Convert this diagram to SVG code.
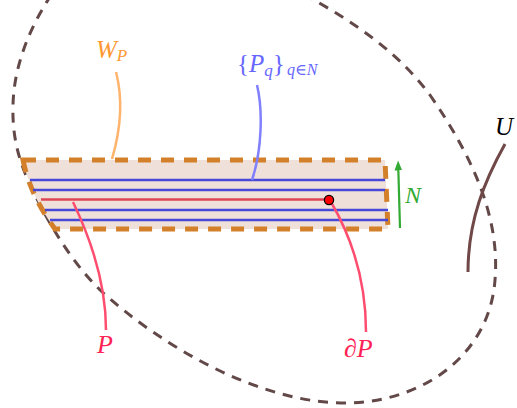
<svg xmlns="http://www.w3.org/2000/svg" width="517" height="408" viewBox="0 0 517 408">
<style>
.lbl{font-family:"Liberation Serif","DejaVu Serif",serif;font-style:italic}
.blue{stroke:#4848d8;stroke-width:2.5;fill:none}
.lead{fill:none;stroke-width:2.5}
</style>
<defs>
<marker id="ga" viewBox="0 0 10 10" refX="5" refY="5" markerWidth="5" markerHeight="5" orient="auto">
<path d="M0,1.5 L9,5 L0,8.5 Z" fill="#33aa33"/>
</marker>
</defs>
<rect width="517" height="408" fill="#fff"/>
<g id="U-region">
<path d="M62,-20 C35,15 14,60 13,105 C12,140 20,165 35,195 C50,225 70,260 100,290 C160,345 260,405 350,403 C430,400 490,350 495,280 C500,220 475,160 430,95 C400,55 360,25 300,-8" fill="none" stroke="#634848" stroke-width="3" stroke-dasharray="10 8"/>
</g>
<g id="tube">
<path d="M23,160 L385,160 L388,229 L55,229 Q30,195 23,160 Z" fill="#efe1d9" stroke="#d4802b" stroke-width="5" stroke-dasharray="13 10"/>
<line class="blue" x1="30" y1="180" x2="385" y2="180"/>
<line class="blue" x1="33" y1="190" x2="385" y2="190"/>
<line x1="41" y1="199.5" x2="329" y2="199.5" stroke="#dd4455" stroke-width="2.5"/>
<line class="blue" x1="45" y1="210" x2="388" y2="210"/>
<line class="blue" x1="50" y1="220" x2="388" y2="220"/>
</g>
<g id="connectors">
<path class="lead" d="M116,72 C122,95 122,125 112,159" stroke="#ffb46e"/>
<path class="lead" d="M257,85 C263,110 262,150 252,180" stroke="#8080ff"/>
<path class="lead" d="M106,330 C106,290 96,250 73,202" stroke="#ff4d70"/>
<path class="lead" d="M366,332 C366,290 356,245 331,202" stroke="#ff4d70"/>
<path d="M505,144 C485,180 468,220 468,272" fill="none" stroke="#704848" stroke-width="3"/>
<path d="M400,228 L398.2,165" fill="none" stroke="#33aa33" stroke-width="2.2" marker-end="url(#ga)"/>
</g>
<g id="dP-point">
<circle cx="329" cy="200" r="4.6" fill="#ff0000" stroke="#000" stroke-width="1.3"/>
</g>
<g id="labels">
<text class="lbl" x="96" y="58" font-size="25" fill="#ff9933">W<tspan font-size="17" dy="3">P</tspan></text>
<text class="lbl" x="237" y="72" font-size="25" fill="#6666ff"><tspan font-style="normal">{</tspan>P<tspan font-size="17" dy="4">q</tspan><tspan font-style="normal" dy="-4">}</tspan><tspan x="287" font-size="16" dy="3">q∈N</tspan></text>
<text class="lbl" x="97" y="353" font-size="26" fill="#ff2255">P</text>
<text class="lbl" x="344" y="357" font-size="26" fill="#ff2255">∂P</text>
<text class="lbl" x="405" y="203" font-size="24" fill="#33aa33">N</text>
<text class="lbl" x="495" y="135" font-size="25" fill="#000">U</text>
</g>
</svg>
